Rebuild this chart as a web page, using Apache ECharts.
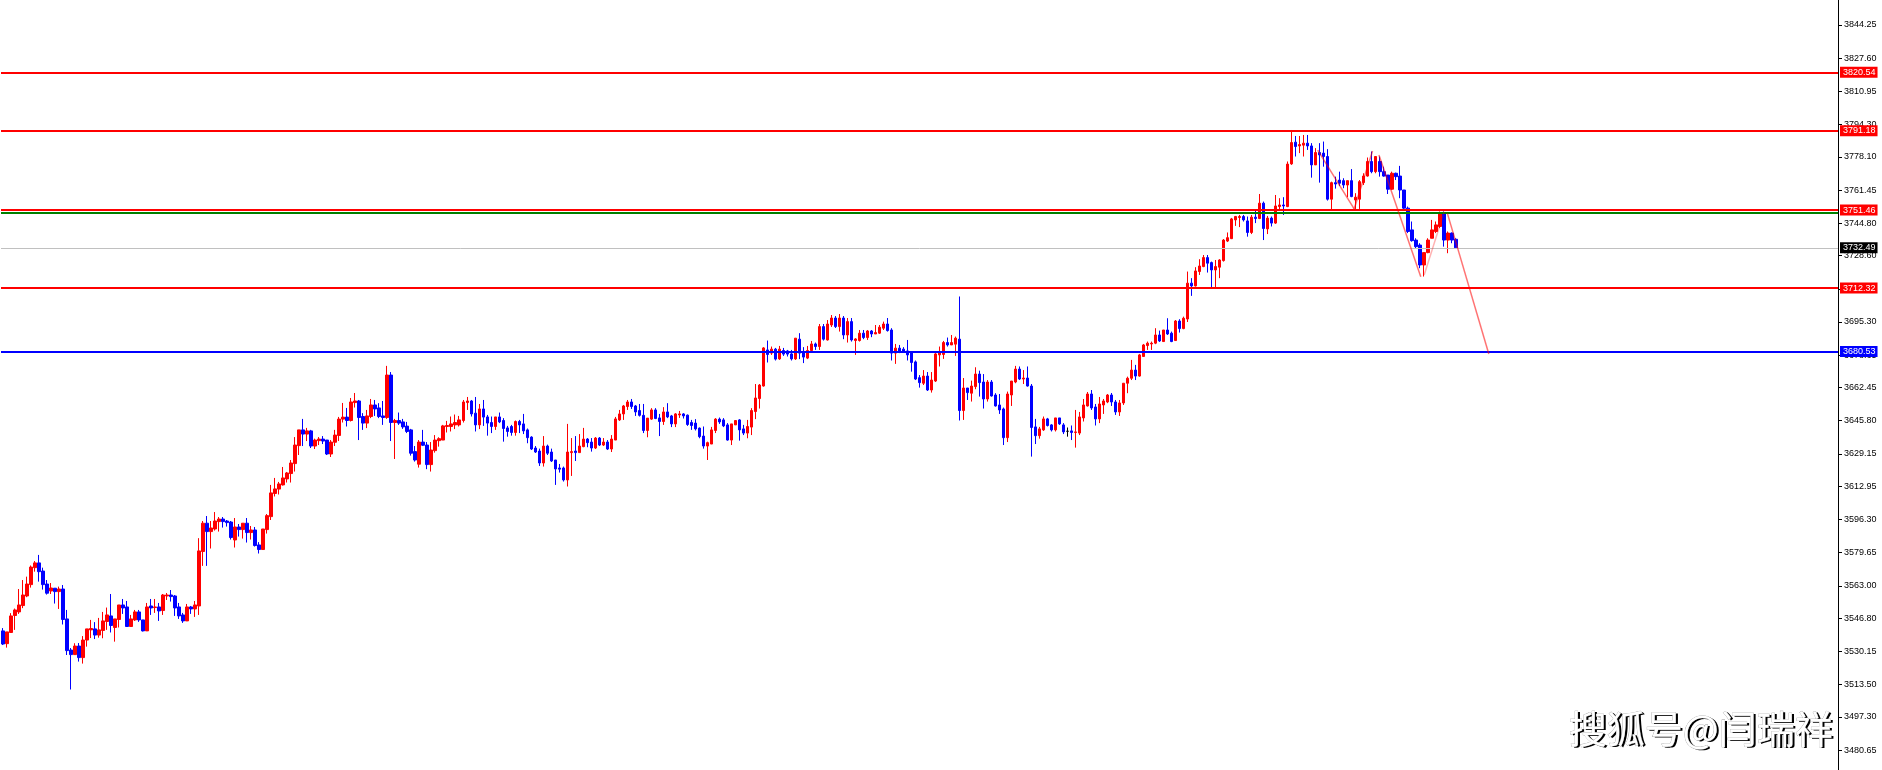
<!DOCTYPE html>
<html><head><meta charset="utf-8">
<script src="https://cdn.jsdelivr.net/npm/echarts@6/dist/echarts.min.js"></script>
<style>html,body{margin:0;padding:0;background:#fff;overflow:hidden}#c{width:1882px;height:770px}</style>
</head><body><div id="c"></div>
<script>
// ---- DATA ----
const opens = [
3540.4,3534.0,3539.6,3548.1,3549.9,3553.1,3557.9,3563.6,3572.1,3574.5,
3570.4,3563.9,3560.4,3561.8,3560.1,3561.4,3546.4,3530.8,3528.5,3532.8,
3527.0,3535.8,3540.9,3541.4,3538.3,3540.6,3545.1,3547.9,3542.1,3546.1,
3553.4,3552.4,3542.6,3545.9,3549.9,3545.9,3540.4,3552.9,3552.1,3552.4,
3550.6,3557.9,3558.4,3557.9,3552.4,3548.4,3545.4,3552.4,3551.4,3552.9,
3580.2,3594.4,3590.2,3591.5,3595.2,3596.5,3595.5,3595.0,3586.0,3592.5,
3591.2,3594.4,3589.7,3591.0,3583.5,3581.2,3591.2,3597.7,3609.3,3611.5,
3613.6,3616.6,3619.3,3624.3,3633.3,3641.2,3639.1,3640.7,3633.1,3635.8,
3636.6,3636.1,3629.1,3635.0,3638.4,3646.6,3647.6,3645.9,3654.9,3655.7,
3647.9,3644.6,3647.9,3653.7,3652.2,3648.2,3647.4,3668.7,3644.9,3645.9,
3645.2,3643.1,3641.2,3630.3,3624.0,3635.1,3633.6,3623.8,3630.8,3635.8,
3636.1,3642.9,3642.9,3643.7,3643.7,3645.9,3654.9,3655.7,3649.6,3643.7,
3651.7,3647.7,3644.9,3642.9,3647.7,3645.9,3642.2,3642.9,3639.9,3645.4,
3644.2,3641.2,3637.6,3632.1,3630.6,3624.6,3633.1,3630.1,3626.1,3622.1,
3622.1,3616.1,3629.8,3630.6,3629.8,3632.8,3636.6,3635.1,3632.1,3637.1,
3633.6,3635.1,3631.6,3636.1,3646.2,3649.2,3652.9,3655.2,3653.2,3650.9,
3648.5,3640.9,3646.6,3651.2,3647.2,3645.4,3650.2,3648.2,3644.2,3648.7,
3649.2,3648.6,3644.9,3644.6,3642.1,3638.1,3633.1,3634.1,3640.9,3646.6,
3646.2,3643.7,3636.1,3643.7,3646.2,3641.7,3639.6,3642.6,3650.4,3656.9,
3663.2,3681.3,3679.7,3681.7,3676.8,3681.0,3680.8,3679.3,3676.8,3686.7,
3680.0,3677.2,3681.0,3684.3,3683.0,3693.0,3686.3,3693.8,3697.3,3693.0,
3697.3,3688.8,3695.5,3686.0,3686.0,3689.7,3687.5,3690.8,3689.3,3689.7,
3692.2,3694.3,3691.3,3679.7,3682.2,3681.7,3680.8,3680.0,3675.3,3667.4,
3664.6,3668.2,3661.2,3665.7,3678.8,3679.0,3685.0,3683.8,3684.2,3686.7,
3650.9,3662.2,3659.6,3662.9,3669.2,3665.2,3656.7,3665.2,3658.7,3653.7,
3651.7,3637.3,3658.7,3665.2,3671.7,3666.7,3667.2,3663.2,3642.7,3638.3,
3641.2,3646.7,3643.7,3641.2,3647.2,3643.7,3640.5,3640.7,3639.9,3639.6,
3647.2,3653.2,3659.2,3652.7,3646.7,3653.7,3655.2,3658.7,3655.2,3650.2,
3654.7,3664.6,3667.1,3671.2,3668.2,3678.0,3683.5,3684.3,3684.7,3688.8,
3685.5,3691.3,3689.7,3686.0,3695.8,3692.0,3696.8,3714.8,3713.4,3720.6,
3723.1,3727.6,3725.1,3721.4,3722.8,3726.1,3735.9,3737.1,3746.5,3747.7,
3748.2,3746.0,3740.2,3747.9,3747.2,3754.9,3742.0,3747.4,3744.9,3753.2,
3754.0,3753.2,3774.6,3785.5,3783.6,3784.0,3785.0,3783.6,3774.1,3780.3,
3780.0,3778.3,3756.9,3765.2,3766.5,3766.2,3764.0,3766.2,3756.5,3756.9,
3765.2,3768.5,3775.8,3770.7,3775.8,3770.7,3769.0,3761.9,3769.9,3768.5,
3761.5,3752.4,3741.5,3736.4,3733.9,3723.9,3730.1,3737.3,3740.7,3743.2,
3749.5,3736.4,3739.9,3736.8
];
const closes = [
3533.8,3539.9,3547.9,3550.9,3553.4,3558.4,3563.9,3572.4,3574.5,3570.1,
3563.6,3559.3,3561.9,3560.1,3561.4,3546.1,3530.5,3528.5,3532.8,3527.0,
3535.8,3541.4,3541.6,3538.3,3540.9,3545.4,3548.4,3543.1,3546.4,3553.4,
3551.9,3542.6,3546.4,3549.9,3545.9,3540.4,3552.4,3551.9,3552.4,3550.4,
3558.4,3558.4,3557.6,3551.9,3547.9,3545.4,3552.4,3551.4,3553.4,3580.5,
3594.4,3590.2,3592.0,3595.5,3596.5,3595.2,3594.7,3587.2,3592.5,3591.2,
3594.4,3589.7,3591.0,3583.2,3581.2,3591.5,3598.2,3609.6,3611.6,3614.1,
3617.1,3619.6,3624.6,3633.6,3641.2,3639.1,3640.7,3633.1,3636.1,3636.6,
3635.6,3629.1,3635.1,3638.6,3646.6,3647.6,3645.9,3655.2,3655.7,3647.4,
3644.6,3648.2,3653.7,3651.7,3647.9,3647.4,3668.7,3644.9,3645.9,3644.6,
3642.7,3640.4,3629.5,3626.1,3635.1,3633.5,3623.8,3631.1,3636.1,3636.8,
3643.2,3643.4,3644.2,3644.9,3646.2,3655.2,3655.7,3649.2,3643.7,3651.7,
3647.6,3644.6,3642.9,3647.7,3645.2,3641.9,3640.4,3639.9,3645.4,3643.7,
3640.7,3637.3,3631.6,3630.1,3624.6,3633.1,3629.5,3625.6,3621.6,3621.5,
3616.1,3630.1,3630.3,3629.8,3633.1,3636.6,3634.8,3632.1,3637.1,3633.6,
3635.1,3631.6,3636.6,3646.7,3649.2,3653.2,3655.2,3652.9,3650.2,3648.5,
3640.9,3647.1,3651.2,3646.9,3645.4,3650.2,3647.7,3644.2,3649.2,3649.2,
3648.2,3643.9,3643.4,3641.7,3637.8,3633.1,3634.8,3641.2,3646.6,3645.2,
3643.2,3636.1,3644.2,3645.9,3641.2,3639.6,3642.9,3650.9,3657.2,3663.7,
3682.3,3679.0,3681.7,3676.7,3681.7,3679.2,3679.2,3676.8,3687.2,3679.7,
3677.7,3681.0,3684.3,3683.0,3693.0,3686.7,3694.3,3697.3,3693.0,3697.3,
3688.8,3695.5,3686.3,3686.8,3689.7,3687.5,3690.8,3689.3,3690.0,3692.7,
3694.3,3691.0,3679.7,3682.2,3680.5,3680.5,3678.8,3675.0,3666.7,3664.9,
3668.2,3661.2,3666.2,3679.3,3679.8,3685.0,3683.8,3685.0,3687.2,3650.9,
3662.2,3659.9,3663.2,3669.2,3664.9,3656.7,3665.2,3658.2,3653.2,3651.2,
3637.3,3659.2,3665.7,3671.7,3666.7,3667.2,3663.2,3642.4,3638.3,3641.7,
3646.7,3643.4,3641.2,3647.2,3644.2,3640.2,3640.5,3639.9,3640.2,3647.7,
3653.7,3659.2,3652.2,3646.7,3654.2,3655.7,3658.7,3655.2,3650.2,3654.7,
3664.6,3667.1,3671.2,3668.2,3678.8,3683.8,3684.7,3684.7,3688.8,3685.8,
3691.3,3689.3,3685.5,3695.8,3692.0,3697.2,3714.8,3713.4,3720.9,3723.4,
3727.6,3724.8,3721.4,3723.1,3726.4,3736.4,3737.6,3747.0,3748.2,3748.2,
3746.5,3740.2,3747.9,3747.2,3754.9,3742.2,3747.4,3744.9,3753.5,3754.0,
3753.5,3774.5,3785.3,3783.3,3784.3,3785.0,3783.6,3774.1,3780.3,3779.1,
3778.3,3756.9,3765.2,3764.5,3764.9,3764.0,3766.2,3758.2,3757.9,3765.7,
3768.5,3775.8,3770.7,3778.3,3770.7,3768.5,3761.9,3769.9,3768.2,3761.5,
3752.4,3740.7,3736.1,3733.1,3723.9,3730.1,3736.4,3741.5,3744.0,3749.5,
3736.4,3739.9,3736.4,3732.49
];
const lows = [
3533.3,3532.0,3539.6,3540.9,3548.9,3551.8,3557.3,3562.1,3570.1,3565.1,
3561.1,3558.6,3558.9,3554.1,3551.4,3543.6,3528.3,3511.0,3528.3,3525.0,
3524.0,3532.5,3536.8,3536.3,3537.0,3536.7,3540.9,3539.6,3535.0,3542.1,
3548.9,3542.6,3542.6,3545.4,3544.9,3540.1,3540.4,3548.4,3549.4,3545.4,
3548.4,3555.9,3555.1,3547.9,3546.4,3544.4,3545.4,3548.9,3547.4,3548.4,
3573.0,3573.0,3581.7,3590.7,3590.2,3592.2,3592.7,3586.2,3582.2,3587.7,
3586.7,3584.7,3586.2,3582.7,3579.2,3581.2,3589.2,3596.0,3607.8,3608.8,
3613.3,3614.8,3614.8,3620.3,3628.6,3633.1,3635.6,3632.1,3631.6,3633.6,
3634.1,3628.6,3627.6,3633.1,3635.6,3644.9,3642.9,3645.4,3652.4,3636.1,
3641.2,3642.1,3647.1,3648.2,3647.1,3643.7,3646.7,3635.6,3626.6,3643.7,
3641.7,3639.6,3628.3,3625.3,3622.3,3633.1,3621.5,3620.3,3629.8,3632.8,
3636.1,3639.9,3640.4,3641.6,3642.9,3644.9,3651.2,3647.9,3640.4,3641.6,
3643.2,3638.3,3639.6,3641.2,3644.6,3635.3,3637.8,3638.3,3638.3,3639.6,
3639.1,3634.5,3631.1,3629.6,3623.1,3622.8,3628.6,3625.1,3613.6,3619.8,
3615.3,3612.8,3618.1,3625.6,3629.8,3632.5,3632.5,3630.3,3631.6,3633.1,
3633.1,3631.1,3630.1,3636.1,3645.7,3646.2,3651.2,3651.7,3648.2,3647.9,
3639.6,3637.5,3646.2,3646.6,3638.1,3643.7,3647.1,3642.6,3642.6,3647.2,
3646.9,3643.2,3641.2,3640.9,3637.0,3631.8,3626.1,3634.1,3639.6,3644.2,
3642.6,3635.8,3633.6,3643.7,3635.8,3638.6,3637.0,3638.6,3646.6,3651.9,
3662.9,3675.0,3678.8,3676.0,3676.3,3678.3,3678.0,3676.0,3676.3,3676.7,
3674.7,3676.7,3680.0,3681.3,3681.3,3686.0,3686.0,3692.8,3692.3,3690.5,
3686.7,3685.0,3685.5,3678.8,3685.5,3686.7,3686.3,3687.7,3689.3,3689.3,
3691.3,3690.5,3676.0,3674.3,3679.7,3680.0,3676.0,3670.4,3666.2,3662.4,
3663.7,3660.7,3659.9,3665.2,3673.0,3676.8,3683.0,3683.8,3678.3,3645.9,
3646.2,3656.2,3655.4,3661.6,3657.9,3651.9,3655.4,3657.9,3652.9,3649.2,
3633.6,3635.1,3653.2,3664.6,3666.2,3664.2,3662.9,3627.8,3634.1,3636.8,
3640.7,3642.9,3640.4,3640.4,3643.7,3639.1,3637.8,3636.1,3632.3,3638.6,
3645.4,3652.9,3651.2,3643.4,3644.6,3649.2,3654.6,3653.2,3648.7,3648.2,
3653.7,3659.6,3666.2,3666.2,3667.9,3678.0,3681.3,3681.3,3684.2,3685.3,
3685.5,3688.8,3685.2,3685.8,3690.0,3691.7,3695.3,3708.4,3713.1,3718.9,
3722.8,3720.1,3712.1,3712.8,3717.3,3725.6,3735.4,3736.9,3743.5,3742.9,
3745.7,3738.1,3739.4,3744.9,3746.9,3736.4,3739.4,3743.2,3744.5,3751.5,
3749.0,3752.9,3774.1,3778.3,3780.0,3778.3,3781.6,3767.7,3774.1,3765.2,
3773.2,3756.2,3751.9,3762.2,3763.5,3762.4,3757.9,3757.9,3752.0,3752.0,
3764.0,3768.2,3769.9,3769.9,3768.2,3768.2,3759.5,3761.5,3766.5,3757.4,
3751.5,3739.9,3735.6,3732.3,3722.3,3718.1,3729.8,3737.3,3739.9,3742.4,
3733.1,3729.8,3734.8,3732.3
];
const highs = [
3541.8,3539.9,3549.3,3551.6,3561.4,3565.9,3567.6,3573.2,3575.4,3578.5,
3572.1,3565.9,3564.4,3561.8,3562.6,3563.4,3550.9,3531.8,3534.2,3534.3,
3537.8,3541.4,3545.9,3544.8,3546.9,3549.9,3552.1,3558.9,3546.4,3553.4,
3556.4,3555.4,3548.4,3550.9,3550.9,3545.9,3554.4,3556.4,3556.4,3554.4,
3558.9,3559.4,3560.9,3558.4,3554.4,3549.4,3553.9,3552.9,3555.4,3586.9,
3595.5,3598.0,3595.5,3600.0,3597.5,3597.5,3596.0,3595.5,3597.0,3594.0,
3594.4,3597.0,3593.0,3592.5,3584.9,3591.5,3599.0,3613.6,3617.1,3615.1,
3622.6,3620.1,3626.1,3637.6,3641.2,3646.7,3642.2,3641.2,3636.8,3637.6,
3638.1,3636.1,3636.1,3641.2,3647.7,3654.7,3652.2,3657.2,3659.7,3656.2,
3649.6,3651.2,3656.7,3656.2,3654.6,3655.7,3673.3,3670.2,3646.7,3649.9,
3646.7,3645.2,3641.7,3633.1,3636.1,3641.2,3635.1,3635.1,3638.6,3637.5,
3643.7,3645.7,3647.9,3648.9,3648.2,3656.2,3657.7,3656.2,3657.7,3654.2,
3656.2,3648.7,3647.9,3647.7,3649.9,3647.1,3643.2,3643.7,3645.9,3646.2,
3649.2,3641.9,3638.0,3633.1,3631.8,3638.1,3633.8,3631.8,3626.1,3624.1,
3622.8,3644.2,3637.1,3638.1,3639.1,3642.2,3637.1,3637.1,3637.6,3637.6,
3637.1,3636.1,3638.6,3647.7,3651.2,3653.7,3656.2,3656.7,3653.7,3654.2,
3654.2,3647.1,3652.1,3652.1,3649.2,3652.6,3654.6,3648.7,3649.6,3650.7,
3649.6,3648.9,3646.2,3646.6,3642.4,3642.9,3635.3,3642.7,3647.1,3647.4,
3647.1,3644.6,3644.2,3645.9,3646.6,3643.7,3646.2,3652.1,3664.2,3664.2,
3682.7,3686.0,3683.0,3682.3,3683.3,3682.3,3681.3,3681.3,3687.2,3689.7,
3682.7,3683.3,3685.8,3685.0,3694.3,3694.3,3696.3,3698.8,3698.3,3699.3,
3698.3,3697.3,3697.3,3687.2,3691.3,3691.3,3691.3,3691.3,3693.8,3693.8,
3695.5,3697.3,3692.2,3684.3,3683.8,3682.7,3686.3,3680.5,3676.0,3668.7,
3671.2,3670.2,3670.2,3680.0,3683.0,3685.8,3687.5,3688.8,3688.0,3708.1,
3667.2,3662.2,3665.9,3672.6,3670.9,3669.2,3666.2,3666.2,3659.6,3659.2,
3652.4,3660.4,3665.7,3673.3,3673.0,3671.2,3673.0,3664.2,3646.7,3642.7,
3647.9,3647.2,3644.1,3647.2,3647.2,3644.6,3642.4,3643.4,3651.2,3650.2,
3656.7,3660.2,3661.2,3654.2,3657.7,3656.7,3659.2,3659.7,3656.2,3656.2,
3664.6,3667.9,3676.3,3673.8,3679.3,3684.3,3685.5,3685.5,3692.2,3691.0,
3691.3,3697.2,3690.5,3696.3,3696.7,3698.0,3720.6,3717.3,3722.8,3726.8,
3728.9,3728.9,3725.6,3726.4,3726.8,3736.9,3740.2,3747.5,3748.5,3749.0,
3749.0,3748.2,3749.0,3751.5,3759.5,3755.7,3748.5,3748.2,3759.0,3757.4,
3757.9,3775.8,3791.6,3788.6,3788.6,3789.1,3789.1,3785.0,3782.5,3785.0,
3785.8,3782.0,3765.7,3768.2,3770.7,3767.4,3766.2,3772.0,3759.9,3766.5,
3769.9,3777.8,3780.8,3778.3,3778.3,3773.2,3769.0,3770.7,3770.2,3773.6,
3761.5,3753.2,3745.7,3737.3,3734.8,3730.1,3737.3,3746.5,3745.7,3750.7,
3750.7,3740.7,3740.2,3737.3
];
const yTicks = [3480.65,3497.30,3513.50,3530.15,3546.80,3563.00,3579.65,3596.30,3612.95,3629.15,3645.80,3662.45,3678.65,3695.30,3711.95,3728.60,3744.80,3761.45,3778.10,3794.30,3810.95,3827.60,3844.25];
const resistanceLevels = [3820.54, 3791.18, 3751.46, 3712.32];
const greenLevel = 3750.3;
const currentPrice = 3732.49;
const supportLevel = 3680.53;
// trend lines: [barIndex, price] pairs
const trendLines = [
  [[328.5, 3781.5], [337.6, 3752.0]],
  [[337.6, 3752.0], [342.2, 3781.1]],
  [[343.8, 3779.1], [354.25, 3718.0]],
  [[355.1, 3718.9], [360.1, 3750.6]],
  [[360.9, 3749.8], [371.25, 3679.3]]
];
const watermark = '搜狐号@闫瑞祥';
const SLOTS = 459;
const categories = Array.from({length: SLOTS}, (_, i) => 'b' + i);

// ---- CHART ----
const FONT = "'Liberation Sans', Arial, sans-serif";
const candleData = opens.map((o, i) => {
  const it = {value: [o, closes[i], lows[i], highs[i]]};
  if (o === closes[i]) it.itemStyle = {color:'#000', color0:'#000', borderColor:'#000', borderColor0:'#000', borderColorDoji:'#000'};
  return it;
});
function tag(bg) {
  return {show:true, position:'end', distance:2, formatter: p => Number(p.value).toFixed(2),
    color:'#fff', backgroundColor:bg, padding:[1,2,0,3], fontFamily:FONT, fontSize:9, lineHeight:10};
}
const markData = [
  {yAxis: greenLevel, lineStyle:{color:'#008000', width:2, type:'solid'}, label:{show:false}},
  {yAxis: currentPrice, lineStyle:{color:'#c0c0c0', width:1, type:'solid'}, label: tag('#000')},
  {yAxis: supportLevel, lineStyle:{color:'#0000ff', width:2, type:'solid'}, label: tag('#0000ff')}
].concat(resistanceLevels.map(v => ({yAxis: v, lineStyle:{color:'#ff0000', width:2, type:'solid'}, label: tag('#ff0000')})));

const series = [
  {type:'candlestick', xAxisIndex:0, yAxisIndex:0, data:candleData, barWidth:3, z:3,
   itemStyle:{color:'#ff0000', color0:'#0000ff', borderColor:'#ff0000', borderColor0:'#0000ff', borderWidth:1}},
  {type:'line', xAxisIndex:0, yAxisIndex:0, data:[], z:4, silent:true,
   markLine:{silent:true, symbol:['none','none'], animation:false, data:markData}}
];
trendLines.forEach((seg, i) => series.push({
  type:'line', xAxisIndex:1, yAxisIndex:0, data:seg, showSymbol:false, silent:true, z:5,
  lineStyle:{color: i === 3 ? 'rgba(255,0,0,0.3)' : 'rgba(255,0,0,0.55)', width:1.5}
}));

const chart = echarts.init(document.getElementById('c'));
chart.setOption({
  animation:false,
  backgroundColor:'#ffffff',
  grid:{left:1, right:44, top:0, bottom:0},
  xAxis:[
    {type:'category', data:categories, show:false, boundaryGap:true},
    {type:'value', min:-0.5, max:SLOTS-0.5, show:false}
  ],
  yAxis:{type:'value', position:'right', min:3470.63, max:3856.79, scale:true,
    splitLine:{show:false},
    axisLine:{show:true, onZero:false, lineStyle:{color:'#000', width:1}},
    axisTick:{show:true, inside:false, length:4, customValues:yTicks, lineStyle:{color:'#000'}},
    axisLabel:{show:true, customValues:yTicks, formatter: v => Number(v).toFixed(2), color:'#000',
      fontFamily:FONT, fontSize:9, margin:6}
  },
  graphic:[
    {type:'text', right:47, top:711, z:100, style:{text:watermark, fill:'#000', font:"38px 'Noto Sans CJK SC', sans-serif"}},
    {type:'text', right:49, top:709, z:101, style:{text:watermark, fill:'#fff', stroke:'#999', lineWidth:0.6, font:"38px 'Noto Sans CJK SC', sans-serif"}}
  ],
  series: series
});
</script>
</body></html>
